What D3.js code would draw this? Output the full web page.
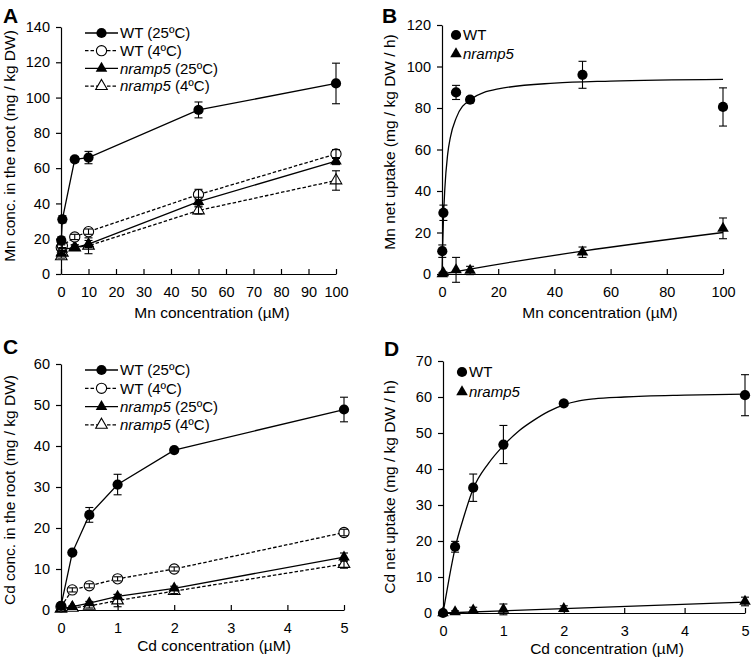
<!DOCTYPE html>
<html lang="en">
<head>
<meta charset="UTF-8">
<title>Mn and Cd uptake</title>
<script src="https://d3js.org/d3.v7.min.js"></script>
<style>
  body { margin: 0; background: #fff; }
  svg { font-family: "Liberation Sans", Arial, sans-serif; }
  .axis text { font-size: 14.5px; fill: #000; }
  .axis path, .axis line { stroke: #000; stroke-width: 1.2; }
</style>
</head>
<body>
<div id="chart"></div>
<script>
// ---- data ----
const mnConc = [0.1, 0.5, 5, 10, 50, 100];
const cdConc = [0, 0.2, 0.5, 1, 2, 5];

// panel A: Mn conc. in the root
const aWT25 = [19, 31, 65, 66, 93, 108];
const aWT25Err = [2, 2, 1.5, 3.5, 4.5, 11.5];
const aWT4 = [15, 16, 21, 24, 45, 68];
const aWT4Err = [1.5, 1.5, 1.5, 1.5, 3, 2.5];
const aN25 = [12, 14, 15, 17, 41, 64];
const aN25Err = [1, 1, 1.5, 2, 2.5, 2];
const aN4 = [10, 12, 15, 16, 36, 53];
const aN4Err = [1, 1, 1.5, 4.5, 2, 5.5];

// panel B: Mn net uptake
const bWT = [11, 29.5, 87.5, 84, 96, 80.5];
const bWTErr = [3, 3.7, 3.4, 1.5, 6.5, 9.2];
const bN = [0, 0.5, 2, 1.7, 10.5, 22];
const bNErr = [0.5, 0.5, 6, 2, 2.5, 5];
// fitted curves
const bWTFitX = [0, 0.2, 0.5, 1, 2, 3, 5, 10, 20, 40, 60, 100];
const bWTFitY = [0, 12, 26, 41, 57.5, 66, 75, 84, 89.2, 92, 93, 93.8];
const bNFitX = [0, 10, 50, 100];
const bNFitY = [0, 2.4, 11, 20];

// panel C: Cd conc. in the root
const cWT25 = [1, 14, 23.2, 30.6, 39, 48.9];
const cWT25Err = [0.3, 0.5, 1.8, 2.5, 0.5, 3];
const cWT4 = [0.8, 4.9, 5.9, 7.6, 10, 18.9];
const cWT4Err = [0.3, 0.5, 0.5, 0.5, 0.5, 0.8];
const cN25 = [0.3, 0.8, 1.7, 3.3, 5.3, 12.9];
const cN25Err = [0.2, 0.2, 0.4, 0.5, 0.5, 1];
const cN4 = [0.3, 0.5, 1, 2.3, 4.6, 11.2];
const cN4Err = [0.2, 0.2, 0.5, 1.5, 0.6, 1];

// panel D: Cd net uptake
const dWT = [0, 18.4, 34.8, 46.8, 58.2, 60.5];
const dWTErr = [0, 1.5, 3.8, 5.3, 0.5, 5.7];
const dN = [0, 0.3, 0.8, 1.0, 1.2, 3.2];
const dNErr = [0, 0.3, 0.8, 1.5, 0.8, 1.2];
const dWTFitX = [0, 0.1, 0.2, 0.35, 0.5, 0.75, 1, 1.25, 1.5, 1.75, 2, 2.25, 2.5, 3, 4, 5];
const dWTFitY = [0, 9.5, 18, 27, 34.5, 41.5, 46.5, 50.5, 53.5, 56, 57.8, 58.9, 59.5, 60, 60.5, 60.8];
const dNFitX = [0, 5];
const dNFitY = [0, 3.0];

const W = 754, H = 659;
const svg = d3.select("#chart").append("svg").attr("width", W).attr("height", H);

function zip(xs, ys, es) {
  return xs.map((x, i) => ({x: x, y: ys[i], e: es ? es[i] : 0}));
}

function marker(s) {
  return d3.symbol(s.shape === "circle" ? d3.symbolCircle : d3.symbolTriangle,
                   s.shape === "circle" ? 82 : 58);
}

function drawPanel(p) {
  const x = d3.scaleLinear().domain(p.xDomain).range([p.left, p.right]);
  const y = d3.scaleLinear().domain(p.yDomain).range([p.bottom, p.top]);
  const g = svg.append("g");

  g.append("g").attr("class", "axis")
    .attr("transform", `translate(0,${p.bottom})`)
    .call(d3.axisBottom(x).tickValues(p.xTicks).tickFormat(d3.format("d"))
      .tickSize(-5).tickSizeOuter(0).tickPadding(13))
    .call(a => a.selectAll("text").attr("dy", "0.71em"));

  g.append("g").attr("class", "axis")
    .attr("transform", `translate(${p.left},0)`)
    .call(d3.axisLeft(y).tickValues(p.yTicks).tickSize(5).tickSizeOuter(0).tickPadding(6));

  // titles
  g.append("text").attr("x", p.xTitleX).attr("y", p.xTitleY)
    .attr("text-anchor", "middle").style("font-size", "15.5px").text(p.xTitle);
  g.append("text")
    .attr("transform", `translate(${p.yTitleX},${p.yTitleY}) rotate(-90)`)
    .attr("text-anchor", "middle").style("font-size", "15.5px").text(p.yTitle);
  g.append("text").attr("x", p.letterX).attr("y", p.letterY)
    .style("font-size", "21px").style("font-weight", "bold").text(p.letter);

  const line = d3.line().x(d => x(d.x)).y(d => y(d.y));
  const fitLine = d3.line().x(d => x(d.x)).y(d => y(d.y)).curve(d3.curveMonotoneX);

  // fitted curves / connecting lines
  p.series.forEach(s => {
    const pts = s.fit ? s.fit : s.data;
    g.append("path").datum(pts)
      .attr("d", s.fit ? fitLine : line)
      .attr("fill", "none").attr("stroke", "#000").attr("stroke-width", 1.3)
      .attr("stroke-dasharray", s.dashed ? "3.5,2" : null);
  });

  // markers
  p.series.slice().reverse().forEach(s => {
    g.selectAll(null).data(s.data).enter().append("path")
      .attr("transform", d => `translate(${x(d.x)},${y(d.y)})`)
      .attr("d", marker(s))
      .attr("fill", s.open ? "#fff" : "#000")
      .attr("stroke", "#000").attr("stroke-width", s.open ? 1.1 : 0);
  });

  // error bars (drawn over the markers, as in the original)
  p.series.forEach(s => {
    const eb = g.append("g").attr("stroke", "#000").attr("stroke-width", 1.1);
    s.data.filter(d => d.e > 0).forEach(d => {
      const cx = x(d.x);
      eb.append("line").attr("x1", cx).attr("x2", cx).attr("y1", y(d.y - d.e)).attr("y2", y(d.y + d.e));
      [d.y - d.e, d.y + d.e].forEach(v => {
        eb.append("line").attr("x1", cx - 4).attr("x2", cx + 4).attr("y1", y(v)).attr("y2", y(v));
      });
    });
  });

  // legend
  p.series.forEach((s, i) => {
    const ly = p.legY + i * p.legStep;
    if (p.legLine) {
      g.append("line").attr("x1", p.legX).attr("x2", p.legX + 33).attr("y1", ly).attr("y2", ly)
        .attr("stroke", "#000").attr("stroke-width", 1.3)
        .attr("stroke-dasharray", s.dashed ? "3.5,2" : null);
    }
    const mx = p.legLine ? p.legX + 16.5 : p.legX;
    g.append("path").attr("transform", `translate(${mx},${ly})`)
      .attr("d", marker(s))
      .attr("fill", s.open ? "#fff" : "#000").attr("stroke", "#000").attr("stroke-width", s.open ? 1.1 : 0);
    const t = g.append("text").attr("x", p.legLine ? p.legX + 35 : p.legX + 7).attr("y", ly)
      .attr("dy", "0.35em").style("font-size", "15px");
    if (s.italic) {
      t.append("tspan").style("font-style", "italic").text(s.italic);
      if (s.suffix) t.append("tspan").text(s.suffix);
    } else {
      t.text(s.name);
    }
  });
}

drawPanel({
  letter: "A", letterX: 3, letterY: 23,
  left: 61, right: 336, top: 27, bottom: 274,
  xDomain: [0, 100], yDomain: [0, 140],
  xTicks: d3.range(0, 101, 10), yTicks: d3.range(0, 141, 20),
  xTitle: "Mn concentration (µM)", xTitleX: 212, xTitleY: 318,
  yTitle: "Mn conc. in the root (mg / kg DW)", yTitleX: 15, yTitleY: 146,
  legX: 85, legY: 33, legStep: 17.7, legLine: true,
  series: [
    {name: "WT (25ºC)", shape: "circle", data: zip(mnConc, aWT25, aWT25Err)},
    {name: "WT (4ºC)", shape: "circle", open: true, dashed: true, data: zip(mnConc, aWT4, aWT4Err)},
    {italic: "nramp5", suffix: " (25ºC)", shape: "triangle", data: zip(mnConc, aN25, aN25Err)},
    {italic: "nramp5", suffix: " (4ºC)", shape: "triangle", open: true, dashed: true, data: zip(mnConc, aN4, aN4Err)}
  ]
});

drawPanel({
  letter: "B", letterX: 382, letterY: 23,
  left: 442, right: 723, top: 25, bottom: 274,
  xDomain: [0, 100], yDomain: [0, 120],
  xTicks: d3.range(0, 101, 20), yTicks: d3.range(0, 121, 20),
  xTitle: "Mn concentration (µM)", xTitleX: 600, xTitleY: 318,
  yTitle: "Mn net uptake (mg / kg DW / h)", yTitleX: 395, yTitleY: 142,
  legX: 456, legY: 35, legStep: 19, legLine: false,
  series: [
    {name: "WT", shape: "circle", data: zip(mnConc, bWT, bWTErr), fit: zip(bWTFitX, bWTFitY)},
    {italic: "nramp5", shape: "triangle", data: zip(mnConc, bN, bNErr), fit: zip(bNFitX, bNFitY)}
  ]
});

drawPanel({
  letter: "C", letterX: 3, letterY: 354,
  left: 61, right: 344, top: 364, bottom: 610,
  xDomain: [0, 5], yDomain: [0, 60],
  xTicks: d3.range(0, 6, 1), yTicks: d3.range(0, 61, 10),
  xTitle: "Cd concentration (µM)", xTitleX: 214, xTitleY: 651,
  yTitle: "Cd conc. in the root (mg / kg DW)", yTitleX: 15, yTitleY: 490,
  legX: 85, legY: 370, legStep: 18.3, legLine: true,
  series: [
    {name: "WT (25ºC)", shape: "circle", data: zip(cdConc, cWT25, cWT25Err)},
    {name: "WT (4ºC)", shape: "circle", open: true, dashed: true, data: zip(cdConc, cWT4, cWT4Err)},
    {italic: "nramp5", suffix: " (25ºC)", shape: "triangle", data: zip(cdConc, cN25, cN25Err)},
    {italic: "nramp5", suffix: " (4ºC)", shape: "triangle", open: true, dashed: true, data: zip(cdConc, cN4, cN4Err)}
  ]
});

drawPanel({
  letter: "D", letterX: 384, letterY: 356,
  left: 443, right: 745, top: 361, bottom: 613,
  xDomain: [0, 5], yDomain: [0, 70],
  xTicks: d3.range(0, 6, 1), yTicks: d3.range(0, 71, 10),
  xTitle: "Cd concentration (µM)", xTitleX: 607, xTitleY: 654,
  yTitle: "Cd net uptake (mg / kg DW / h)", yTitleX: 395, yTitleY: 487,
  legX: 462, legY: 372, legStep: 20, legLine: false,
  series: [
    {name: "WT", shape: "circle", data: zip(cdConc, dWT, dWTErr), fit: zip(dWTFitX, dWTFitY)},
    {italic: "nramp5", shape: "triangle", data: zip(cdConc, dN, dNErr), fit: zip(dNFitX, dNFitY)}
  ]
});
</script>
</body>
</html>
